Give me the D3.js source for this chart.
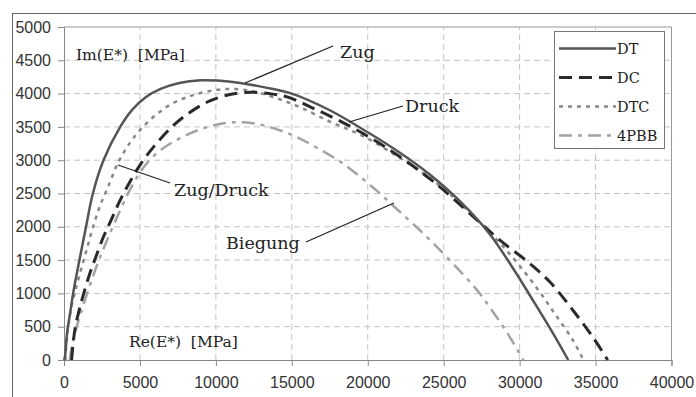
<!DOCTYPE html>
<html>
<head>
<meta charset="utf-8">
<script src="https://cdn.jsdelivr.net/npm/d3@7"></script>
<style>
  body { margin: 0; background: #fff; }
  svg { display: block; }
  .tick text { font-family: "Liberation Sans", Arial, sans-serif; font-size: 16px; fill: #333; }
  .note { font-family: "DejaVu Serif", "Liberation Serif", serif; fill: #222; white-space: pre; }
</style>
</head>
<body>
<script>
  var width = 696;
  var height = 397;

  // curves: [Re(E*), Im(E*)] in MPa
  var dtData = [[0,0],[70,60],[200,400],[400,700],[600,1000],[930,1400],[1450,2000],[1900,2500],[2600,3000],[3700,3500],[4500,3760],[5400,3950],[6400,4075],[7600,4160],[9000,4200],[10100,4195],[11600,4160],[13300,4090],[15000,4000],[17500,3750],[20000,3420],[22000,3130],[24000,2800],[26000,2400],[28000,1900],[29500,1400],[31000,850],[32200,400],[33200,0]];
  var dcData = [[500,0],[600,250],[750,500],[1000,750],[1300,1000],[1700,1300],[2100,1550],[2600,1850],[3100,2100],[3700,2400],[4400,2700],[5100,2960],[5900,3200],[7100,3500],[8300,3720],[9600,3890],[11000,3990],[12300,4020],[13500,4000],[14700,3950],[16600,3760],[18500,3550],[20300,3320],[22000,3070],[23700,2790],[25000,2550],[27200,2100],[28700,1800],[30500,1480],[32000,1170],[33500,750],[34800,350],[35800,0]];
  var dtcData = [[100,0],[150,250],[280,500],[450,750],[700,1000],[1050,1300],[1450,1620],[1850,1950],[2350,2300],[2900,2600],[3600,2980],[4400,3280],[5200,3500],[6100,3690],[7200,3860],[8400,3970],[9600,4040],[11000,4070],[12500,4030],[14000,3930],[15500,3800],[17500,3580],[19700,3360],[22000,3050],[24000,2750],[26000,2370],[28200,1880],[29800,1470],[31200,1060],[32300,700],[33500,300],[34200,0]];
  var pbbData = [[380,0],[550,250],[900,550],[1380,900],[1900,1250],[2400,1560],[2950,1860],[3700,2250],[4400,2580],[5100,2850],[5800,3040],[6600,3190],[7800,3350],[9200,3480],[10700,3560],[11800,3570],[13000,3530],[14200,3450],[15400,3340],[16700,3180],[18100,2990],[19400,2770],[20700,2520],[21800,2290],[23000,2040],[24500,1710],[26300,1280],[27300,1020],[28100,770],[29200,400],[30250,0]];

  var seriesNames = ["DT", "DC", "DTC", "4PBB"];
  var xTicks = [0,5000,10000,15000,20000,25000,30000,35000,40000];
  var yTicks = [0,500,1000,1500,2000,2500,3000,3500,4000,4500,5000];

  var series = [
    {name: seriesNames[0], data: dtData,  color: "#555", w: 2.5, dash: null},
    {name: seriesNames[1], data: dcData,  color: "#2a2a2a", w: 3, dash: "13,7"},
    {name: seriesNames[2], data: dtcData, color: "#888", w: 2.5, dash: "4,5"},
    {name: seriesNames[3], data: pbbData, color: "#a3a3a3", w: 2.5, dash: "13,6,4,6"}
  ];

  var svg = d3.select("body").append("svg")
    .attr("width", width)
    .attr("height", height);

  // outer frame
  svg.append("rect")
    .attr("x", 12.5).attr("y", 13.5)
    .attr("width", 700).attr("height", 400)
    .style("fill", "none").style("stroke", "#666");

  var x = d3.scaleLinear().domain([0, 40000]).range([64, 671.5]);
  var y = d3.scaleLinear().domain([0, 5000]).range([360, 27]);

  // grid
  svg.append("g").selectAll("line").data(xTicks.slice(1, -1)).enter()
    .append("line")
    .attr("x1", function(d) { return x(d); }).attr("x2", function(d) { return x(d); })
    .attr("y1", y(0)).attr("y2", y(5000))
    .style("stroke", "#c4c4c4").style("stroke-dasharray", "6,4");
  svg.append("g").selectAll("line").data(yTicks.slice(1, -1)).enter()
    .append("line")
    .attr("y1", function(d) { return y(d); }).attr("y2", function(d) { return y(d); })
    .attr("x1", x(0)).attr("x2", x(40000))
    .style("stroke", "#c4c4c4").style("stroke-dasharray", "6,4");

  // top + right border of plot area
  svg.append("path")
    .attr("d", "M" + x(0) + "," + y(5000) + "H" + x(40000) + "V" + y(0))
    .style("fill", "none").style("stroke", "#999");

  svg.append("g")
    .attr("transform", "translate(0," + y(0) + ")")
    .call(d3.axisBottom(x).tickValues(xTicks).tickSize(6).tickPadding(11).tickFormat(d3.format("d")));
  svg.append("g")
    .attr("transform", "translate(" + x(0) + ",0)")
    .call(d3.axisLeft(y).tickValues(yTicks).tickSize(6).tickPadding(7).tickFormat(d3.format("d")));
  svg.selectAll(".domain, .tick line").style("stroke", "#888");

  var line = d3.line()
    .x(function(d) { return x(d[0]); })
    .y(function(d) { return y(d[1]); })
    .curve(d3.curveCatmullRom.alpha(0.5));

  // draw lightest first
  series.slice().reverse().forEach(function(s) {
    svg.append("path")
      .datum(s.data)
      .attr("d", line)
      .style("fill", "none")
      .style("stroke", s.color)
      .style("stroke-width", s.w)
      .style("stroke-dasharray", s.dash);
  });

  // legend
  var legend = svg.append("g");
  legend.append("rect")
    .attr("x", 554.5).attr("y", 31.5).attr("width", 110).attr("height", 117)
    .style("fill", "#fff").style("stroke", "#777");
  series.forEach(function(s, i) {
    var ly = 48.5 + i * 29;
    legend.append("line")
      .attr("x1", 559).attr("x2", 616).attr("y1", ly).attr("y2", ly)
      .style("stroke", s.color).style("stroke-width", s.w)
      .style("stroke-dasharray", s.dash);
    legend.append("text").attr("class", "note")
      .attr("x", 617).attr("y", ly + 5.5)
      .style("font-size", "14.5px")
      .text(s.name);
  });

  // annotations
  var notes = [
    {t: "Im(E*)  [MPa]", x: 76, y: 60, size: 15.5},
    {t: "Re(E*)  [MPa]", x: 129, y: 347, size: 15.5},
    {t: "Zug", x: 340, y: 58, size: 17.5},
    {t: "Druck", x: 405, y: 112, size: 17.5},
    {t: "Zug/Druck", x: 174, y: 196, size: 17.5},
    {t: "Biegung", x: 226, y: 249, size: 17.5}
  ];
  notes.forEach(function(n) {
    svg.append("text").attr("class", "note")
      .attr("x", n.x).attr("y", n.y)
      .style("font-size", n.size + "px")
      .text(n.t);
  });

  var leaders = [
    [[245, 83], [333, 46]],
    [[349, 122], [403, 106]],
    [[118, 165], [170, 183]],
    [[306, 242], [394, 203]]
  ];
  leaders.forEach(function(l) {
    svg.append("line")
      .attr("x1", l[0][0]).attr("y1", l[0][1])
      .attr("x2", l[1][0]).attr("y2", l[1][1])
      .style("stroke", "#222").style("stroke-width", 1.3);
  });
</script>
</body>
</html>
